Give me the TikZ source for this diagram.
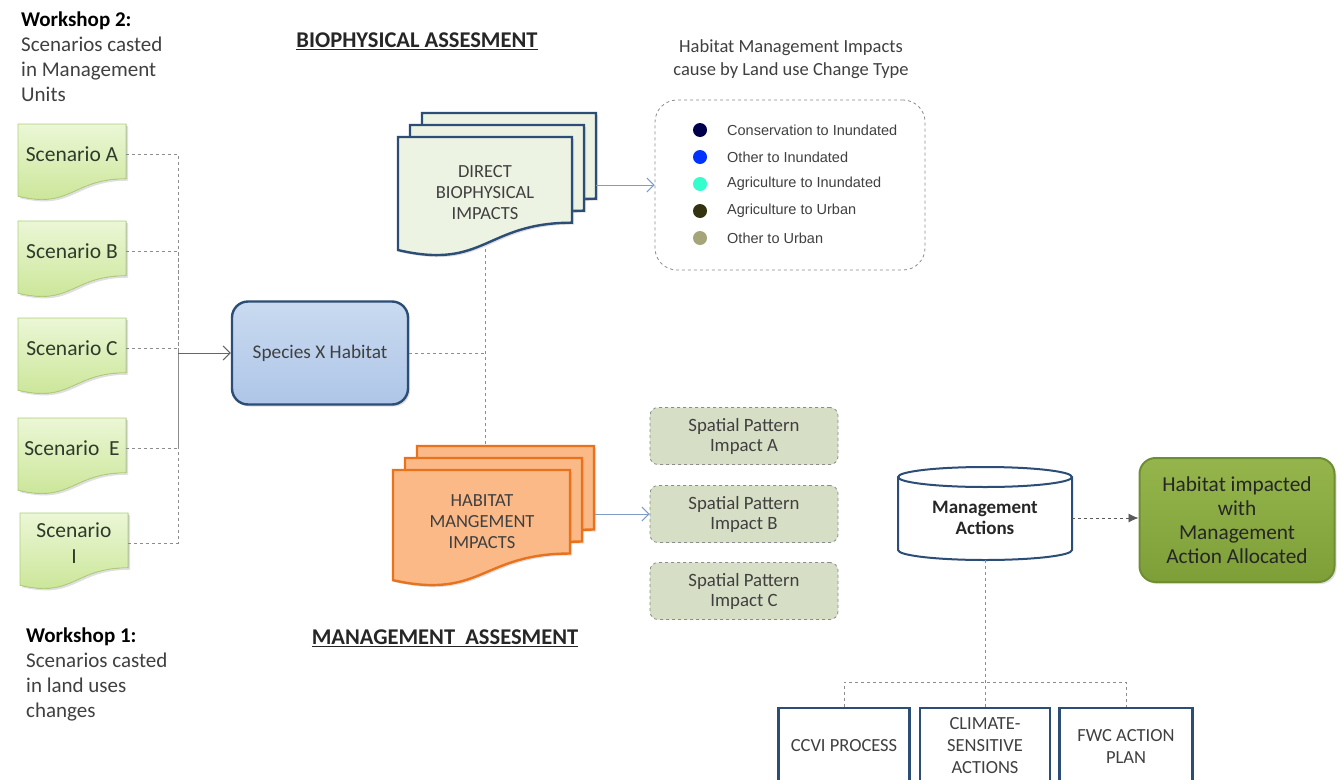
\documentclass[tikz,border=0pt]{standalone}
\usepackage{fontspec}
\setmainfont{Carlito}
\newfontfamily\legfont{Liberation Sans}
\usetikzlibrary{arrows.meta,shadows}
\tikzset{>=latex}
\definecolor{scenfill}{HTML}{EBF7D6}
\definecolor{scenbot}{HTML}{C8E492}
\definecolor{scenline}{HTML}{AFCF78}
\definecolor{scentxt}{HTML}{2F3B2A}
\definecolor{navyline}{HTML}{2C4D75}
\definecolor{sxhfill}{HTML}{C9DAF0}
\definecolor{sxhbot}{HTML}{AFC6E8}
\definecolor{dbifill}{HTML}{EDF3E2}
\definecolor{hmifill}{HTML}{FAB987}
\definecolor{hmiline}{HTML}{E8731C}
\definecolor{spfill}{HTML}{D6DFC5}
\definecolor{hiafill}{HTML}{95B54C}
\definecolor{hiabot}{HTML}{7E9E38}
\definecolor{hialine}{HTML}{6E8E33}
\definecolor{txtgray}{HTML}{404040}
\definecolor{connline}{HTML}{8C8C8C}
\definecolor{flowline}{HTML}{7F9CC4}

\tikzset{
    softshadow/.style={drop shadow={opacity=0.25,shadow xshift=2pt,shadow yshift=-2pt}},
    scen/.style={top color=scenfill,bottom color=scenbot,draw=scenline,line width=0.8pt,softshadow},
    dbipage/.style={fill=dbifill,draw=navyline,line width=2.4pt,softshadow},
    hmipage/.style={fill=hmifill,draw=hmiline,line width=2.4pt,softshadow},
    drumbox/.style={fill=white,draw=navyline,line width=2pt},
    scentext/.style={minimum width=108pt,minimum height=60pt,inner sep=0pt,align=center,
        text=scentxt,font=\fontsize{21.5}{26}\selectfont},
    doctext/.style={minimum width=174pt,inner sep=0pt,align=center,text=txtgray,
        font=\fontsize{18.5}{21}\selectfont},
    species/.style={rounded corners=16pt,top color=sxhfill,bottom color=sxhbot,draw=navyline,
        line width=2.4pt,minimum width=176pt,minimum height=103pt,text=txtgray,
        font=\fontsize{19.3}{22}\selectfont,softshadow},
    legendbox/.style={rounded corners=22pt,draw=connline,dashed,line width=0.8pt,
        minimum width=270pt,minimum height=170pt},
    legtext/.style={anchor=west,inner sep=0pt,text=txtgray,font=\legfont\fontsize{14.5}{16}\selectfont},
    spatial/.style={rounded corners=8pt,fill=spfill,draw=connline,dashed,line width=0.8pt,
        minimum width=188pt,minimum height=57pt,align=center,text=txtgray,
        font=\fontsize{18.8}{20}\selectfont},
    hiabox/.style={rounded corners=16pt,top color=hiafill,bottom color=hiabot,draw=hialine,
        line width=2pt,minimum width=195pt,minimum height=124pt,align=center,text=black!85,
        font=\fontsize{21.3}{24}\selectfont,softshadow},
    actbox/.style={fill=white,draw=navyline,line width=2.4pt,minimum width=131pt,
        minimum height=76pt,align=center,text=txtgray,font=\fontsize{18.5}{22}\selectfont},
    heading/.style={inner sep=0pt,text=black!85,font=\bfseries\fontsize{22.5}{24}\selectfont},
    notetext/.style={inner sep=0pt,align=left,text=txtgray,font=\fontsize{21}{25}\selectfont},
    conn/.style={draw=connline,dashed,line width=0.8pt},
    grayarrow/.style={draw=black!60,line width=1pt,-{Straight Barb[length=7pt,width=14pt]}},
    bluearrow/.style={draw=flowline,line width=1pt,-{Straight Barb[length=7pt,width=14pt]}}
}

\newcommand\docpage[5]{
    \filldraw[#5] ({#1},{#2}) -- ({#1+#3},{#2}) -- ({#1+#3},{#2+0.72*#4})
        .. controls ({#1+0.5*#3},{#2+0.72*#4}) and ({#1+0.5*#3},{#2+1.12*#4}) .. ({#1},{#2+0.95*#4}) -- cycle;
}
\newcommand\multidoc[5]{
    \docpage{#1+24}{#2-24}{#3}{#4}{#5}
    \docpage{#1+12}{#2-12}{#3}{#4}{#5}
    \docpage{#1}{#2}{#3}{#4}{#5}
}
\newcommand\scenario[4]{
    \docpage{#2}{#3}{108}{76}{scen}
    \node[scentext] (#1) at ({#2+54},{#3+30}) {#4};
}
\newcommand\drum[5]{
    \filldraw[#5] ({#1},{#2+10}) -- ({#1},{#2+#4-10}) arc (180:360:{0.5*#3pt} and 10pt)
        -- ({#1+#3},{#2+10}) arc (0:180:{0.5*#3pt} and 10pt) -- cycle;
    \draw[#5] ({#1+#3},{#2+10}) arc (0:-180:{0.5*#3pt} and 10pt);
}

\begin{document}
\begin{tikzpicture}[x=1pt,y=-1pt]
    \useasboundingbox[fill=white] (0,0) rectangle (1343,779);

    \node[notetext,anchor=north west] (ws2) at (21,12)
        {\textcolor{black}{\textbf{Workshop 2:}}\\Scenarios casted\\in Management\\Units};
    \node[notetext,anchor=north west] (ws1) at (26,628)
        {\textcolor{black}{\textbf{Workshop 1:}}\\Scenarios casted\\in land uses\\changes};
    \node[heading] (bioh) at (417,41) {\underline{BIOPHYSICAL ASSESMENT}};
    \node[heading] (mgmth) at (445,638) {\underline{MANAGEMENT\ \ ASSESMENT}};

    \scenario{scA}{18}{124}{Scenario A}
    \scenario{scB}{18}{221}{Scenario B}
    \scenario{scC}{18}{318}{Scenario C}
    \scenario{scE}{18}{418}{Scenario\ \ E}
    \scenario{scI}{20}{513}{Scenario\\I}

    \node[species] (sxh) at (320,353) {Species X Habitat};

    \coordinate (bus) at (178,353);
    \foreach \s in {scA,scB,scC,scE,scI}
        \draw[conn] (\s.east) -| (bus);
    \draw[grayarrow] (bus) -- (sxh.west);

    \multidoc{398}{137}{174}{119}{dbipage}
    \node[doctext,minimum height=112pt] (dbi) at (485,193) {DIRECT\\BIOPHYSICAL\\IMPACTS};

    \multidoc{393}{470}{177}{116}{hmipage}
    \node[doctext,minimum width=177pt,minimum height=80pt] (hmi) at (482,522) {HABITAT\\MANGEMENT\\IMPACTS};
    \coordinate (hmiback) at (485,446);

    \draw[conn] (sxh.east) -- (sxh.east -| dbi.south);
    \draw[conn] (dbi.south) -- (dbi.south |- hmiback);

    \node[text=txtgray,align=center,font=\fontsize{18.5}{23}\selectfont] (ltitle) at (791,59)
        {Habitat Management Impacts\\cause by Land use Change Type};
    \node[legendbox] (legend) at (790,185) {};
    \foreach \c/\t [count=\i] in {00004D/Conservation to Inundated,0033FF/Other to Inundated,
        33FFCC/Agriculture to Inundated,333311/Agriculture to Urban,A6A57A/Other to Urban}{
        \definecolor{dot}{HTML}{\c}
        \fill[dot] (700,{103+27*\i}) circle (7pt);
        \node[legtext] (leg\i) at (727,{103+27*\i}) {\t};
    }
    \draw[bluearrow] ([xshift=24pt]dbi.east |- legend.west) -- (legend.west);

    \node[spatial] (spA) at (744,436) {Spatial Pattern\\Impact A};
    \node[spatial] (spB) at (744,514) {Spatial Pattern\\Impact B};
    \node[spatial] (spC) at (744,591) {Spatial Pattern\\Impact C};
    \draw[bluearrow] ([xshift=24pt]hmi.east |- spB.west) -- (spB.west);

    \drum{898}{467}{174}{93}{drumbox}
    \node[align=center,text=black!85,font=\bfseries\fontsize{19}{21}\selectfont,
        minimum width=174pt,minimum height=84pt,inner sep=0pt] (mact) at (985,518)
        {Management\\Actions};

    \node[hiabox] (hia) at (1237,520) {Habitat impacted\\with\\Management\\Action Allocated};
    \draw[conn,-{Latex[length=10pt,width=9pt]},draw=black!65] (mact.east) -- (mact.east -| hia.west);

    \node[actbox] (ccvi) at (844,746) {CCVI PROCESS};
    \node[actbox,minimum width=130pt] (csa) at (985,746) {CLIMATE-\\SENSITIVE\\ACTIONS};
    \node[actbox,minimum width=133pt] (fwc) at (1126,746) {FWC ACTION\\PLAN};
    \coordinate (split) at (985,682);
    \draw[conn] (mact.south) -- (csa.north);
    \draw[conn] (ccvi.north) |- (split) -| (fwc.north);
\end{tikzpicture}
\end{document}
